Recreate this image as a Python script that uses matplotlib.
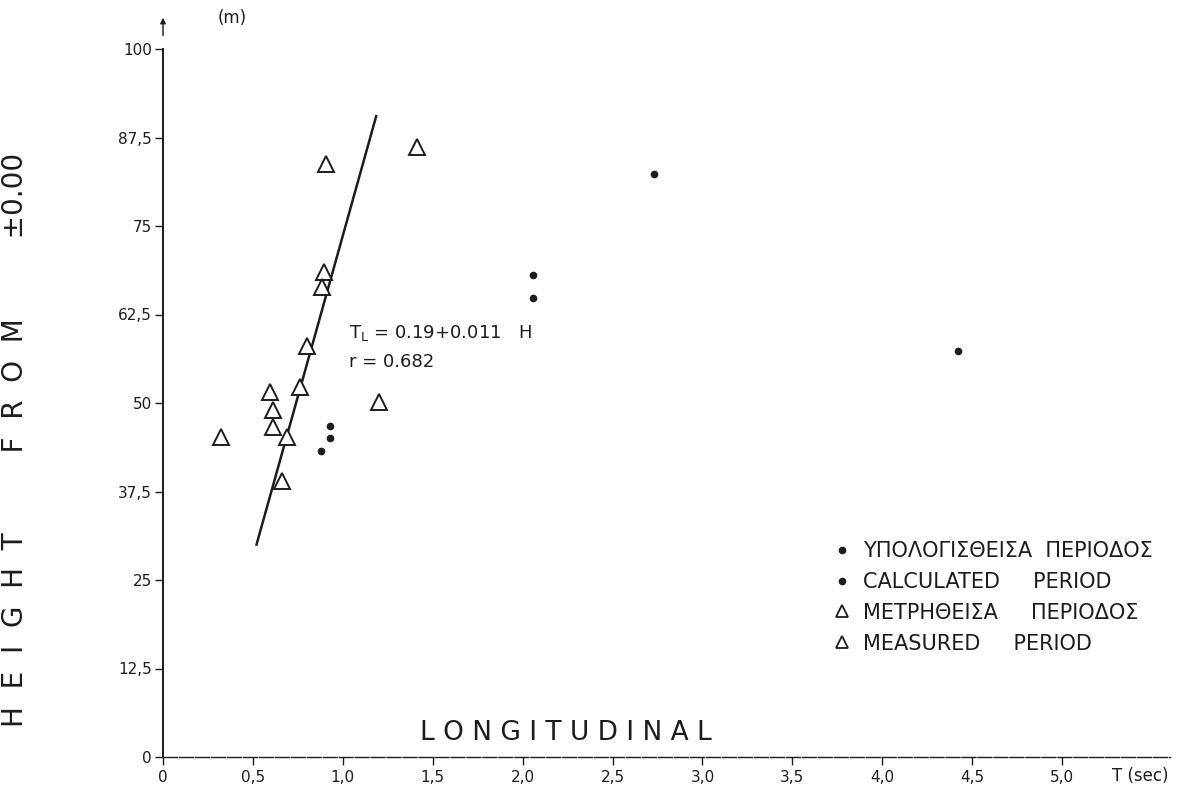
import matplotlib
matplotlib.use("Agg")
import matplotlib.pyplot as plt
from matplotlib.lines import Line2D
import numpy as np

# ---- data ----
measured_T = [0.32, 0.595, 0.61, 0.61, 0.69, 0.66, 0.76, 0.80, 0.895, 0.885, 0.905, 1.20, 1.41]
measured_H = [45.2, 51.6, 49.0, 46.6, 45.2, 39.0, 52.3, 58.1, 68.5, 66.4, 83.8, 50.1, 86.2]
calc_T = [0.88, 0.93, 0.93, 2.06, 2.06, 2.73, 4.42]
calc_H = [43.2, 45.0, 46.8, 68.1, 64.8, 82.3, 57.3]
fit_a, fit_b = 0.19, 0.011
fit_H_range = [30.0, 90.5]
xticks = [0, 0.5, 1.0, 1.5, 2.0, 2.5, 3.0, 3.5, 4.0, 4.5, 5.0]
xticklabels = ["0", "0,5", "1,0", "1,5", "2,0", "2,5", "3,0", "3,5", "4,0", "4,5", "5,0"]
yticks = [0, 12.5, 25, 37.5, 50, 62.5, 75, 87.5, 100]
yticklabels = ["0", "12,5", "25", "37,5", "50", "62,5", "75", "87,5", "100"]

ink = "#1c1c1c"
plt.rcParams['font.family'] = ['DejaVu Sans']

fig = plt.figure(figsize=(11.86, 7.97), dpi=100)
W, Hh = 1186, 797
x0, x1 = 163, 1170
y0, y1 = 757, 49
ax = fig.add_axes([x0 / W, 1 - y0 / Hh, (x1 - x0) / W, (y0 - y1) / Hh])
ax.set_xlim(0, 5.6)
ax.set_ylim(0, 100)
for s in ["top", "right"]:
    ax.spines[s].set_visible(False)
ax.spines["left"].set_color(ink)
ax.spines["bottom"].set_color(ink)
ax.spines["left"].set_linewidth(1.4)
ax.spines["bottom"].set_linewidth(1.0)
ax.spines["bottom"].set_linestyle((0, (10, 1.5)))

ax.set_xticks(xticks)
ax.set_xticklabels(xticklabels)
ax.set_yticks(yticks)
ax.set_yticklabels(yticklabels)
ax.tick_params(axis="both", colors=ink, labelsize=11, length=6, width=1.0)
ax.tick_params(axis="x", pad=3)
ax.tick_params(axis="y", pad=2)

# regression line T = a + b*H
Hl = np.array(fit_H_range)
ax.plot(fit_a + fit_b * Hl, Hl, color=ink, lw=1.8, zorder=2)

ax.plot(measured_T, measured_H, linestyle="none", marker="^", markersize=11,
        mfc="white", mec=ink, mew=1.4, zorder=3)
ax.plot(calc_T, calc_H, linestyle="none", marker="o", markersize=4.5,
        mfc=ink, mec=ink, zorder=3)

ax.text(1.035, 59.2, r"T$_\mathregular{L}$ = 0.19+0.011   H", fontsize=13, color=ink)
ax.text(1.035, 55.1, "r = 0.682", fontsize=13, color=ink)

ax.text(2.24, 3.4, "L O N G I T U D I N A L", fontsize=19, color=ink,
        ha="center", va="center")

# legend
handles = [
    Line2D([], [], linestyle="none", marker="o", markersize=4.5, mfc=ink, mec=ink),
    Line2D([], [], linestyle="none", marker="o", markersize=4.5, mfc=ink, mec=ink),
    Line2D([], [], linestyle="none", marker="^", markersize=9, mfc="white", mec=ink, mew=1.3),
    Line2D([], [], linestyle="none", marker="^", markersize=9, mfc="white", mec=ink, mew=1.3),
]
labels = ["ΥΠΟΛΟΓΙΣΘΕΙΣΑ  ΠΕΡΙΟΔΟΣ", "CALCULATED     PERIOD",
          "ΜΕΤΡΗΘΕΙΣΑ     ΠΕΡΙΟΔΟΣ", "MEASURED     PERIOD"]
leg = ax.legend(handles, labels, loc="upper left",
                bbox_to_anchor=((836 - x0) / (x1 - x0), 1 - (541 - y1) / (y0 - y1)),
                frameon=False, fontsize=15, handlelength=0.6, handletextpad=0.7,
                labelspacing=0.52, borderaxespad=0, borderpad=0)
for t in leg.get_texts():
    t.set_color(ink)

# axis labels
fig.text(15 / W, 1 - 440 / Hh, "H  E  I  G  H  T         F  R  O  M         ±0.00",
         rotation=90, fontsize=20, color=ink, ha="center", va="center")
fig.text(1140 / W, 1 - 776 / Hh, "T (sec)", fontsize=12, color=ink, ha="center", va="center")
fig.text(232 / W, 1 - 18 / Hh, "(m)", fontsize=12, color=ink, ha="center", va="center")
ax.annotate("", xy=(0, 104.8), xytext=(0, 101.5), xycoords="data",
            arrowprops=dict(arrowstyle="-|>", color=ink, lw=1.0, mutation_scale=8),
            annotation_clip=False)

fig.savefig("out.png", dpi=100, facecolor="white")
